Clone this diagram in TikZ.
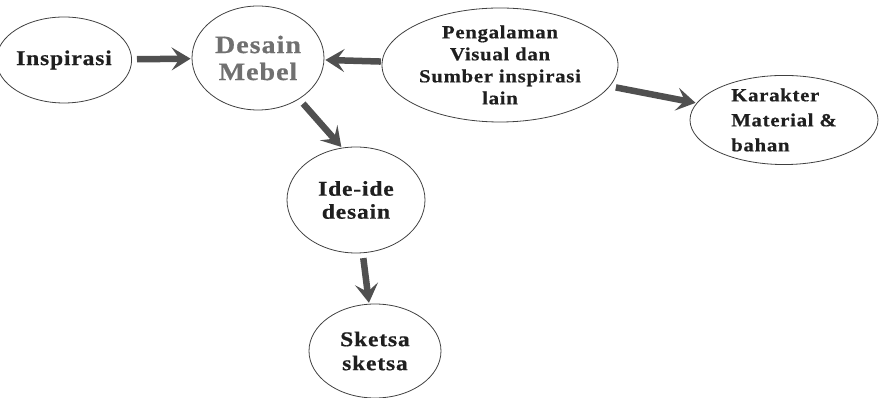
\documentclass[tikz,border=0pt]{standalone}
\usepackage{fontspec}
\setmainfont{Liberation Serif}[FakeStretch=1.12, LetterSpace=4, FakeBold=0.6]
\usetikzlibrary{shapes.geometric,arrows.meta}
\definecolor{mebelgray}{RGB}{112,112,112}
\definecolor{arrowgray}{RGB}{80,80,80}

\begin{document}
\begin{tikzpicture}[x=1pt, y=1pt, bubble/.style={ellipse, draw=black!75, line width=0.8pt, inner sep=0pt, align=center, text=black!88}, flow/.style={arrowgray, line width=6.5pt, -{Stealth[length=19pt, width=23pt, inset=8pt]}}]

  \useasboundingbox (0,0) rectangle (879,398);

  \node[bubble, minimum width=116pt, minimum height=86pt, font=\fontsize{21}{23}\selectfont\bfseries] (insp) at (64,338) {Inspirasi};
  \node[bubble, right of=insp, node distance=194pt, yshift=2pt, minimum width=132pt, minimum height=104pt, text=mebelgray, font=\fontsize{25}{27}\selectfont\bfseries] (desain) {Desain\\Mebel};
  \node[bubble, right of=desain, node distance=242pt, yshift=-7pt, minimum width=236pt, minimum height=114pt, font=\fontsize{18.5}{22}\selectfont\bfseries] (peng) {Pengalaman\\Visual dan\\Sumber inspirasi\\lain};
  \node[bubble, minimum width=188pt, minimum height=86pt, align=left, font=\fontsize{18.5}{25}\selectfont\bfseries] (kar) at (784,278) {Karakter\\Material \&\\bahan};
  \node[bubble, below of=desain, node distance=142pt, xshift=98pt, minimum width=138pt, minimum height=106pt, font=\fontsize{21}{23}\selectfont\bfseries] (ide) {Ide-ide\\desain};
  \node[bubble, below of=ide, node distance=151pt, xshift=19pt, minimum width=132pt, minimum height=94pt, font=\fontsize{21}{24}\selectfont\bfseries] (sketsa) {Sketsa\\sketsa};

  \draw[flow, shorten <=5pt, shorten >=1pt] (insp) -- (desain);
  \draw[flow, shorten <=1pt, shorten >=1pt] (peng) -- (desain);
  \draw[flow, shorten <=6pt, shorten >=1pt] (desain.-45) -- (ide.105);
  \draw[flow, shorten <=6pt, shorten >=1pt] (peng) -- (kar);
  \draw[flow, shorten <=5pt, shorten >=1pt] (ide) -- (sketsa);
\end{tikzpicture}
\end{document}
